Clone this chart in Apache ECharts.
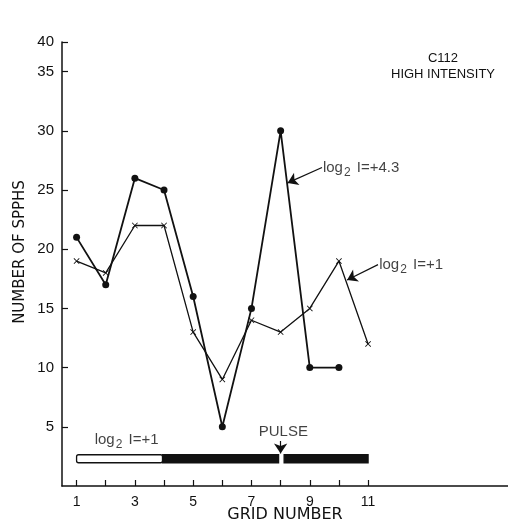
<!DOCTYPE html>
<html>
<head>
<meta charset="utf-8">
<script src="https://cdn.jsdelivr.net/npm/echarts@6/dist/echarts.min.js"></script>
<style>
  html, body { margin: 0; padding: 0; background: #fff; }
  #main { width: 508px; height: 526px; }
</style>
</head>
<body>
<div id="main"></div>
<script>
// grid numbers and spike counts
var gridNumbers = [1, 2, 3, 4, 5, 6, 7, 8, 9, 10, 11];
var highIntensity = [21, 17, 26, 25, 16, 5, 15, 30, 10, 10, null]; // log2 I=+4.3
var lowIntensity = [19, 18, 22, 22, 13, 9, 14, 13, 15, 19, 12];    // log2 I=+1

var xTickValues = [1, 2, 3, 4, 5, 6, 7, 8, 9, 10, 11];
var xLabelValues = [1, 3, 5, 7, 9, 11];
// the printed axis tops out just above 35, with "40" written at its end
var yTickValues = [5, 10, 15, 20, 25, 30, 35, 37.5];
var yTopLabel = '40';

// stimulus bar along the bottom
var stimStart = [1, 3.95, 8.12];
var stimEnd = [3.95, 7.93, 11];
var stimKind = ['low', 'high', 'high'];
var stimLevel = 2.3;
var pulseAt = 8;

var FONT = 'Liberation Sans';

var chart = echarts.init(document.getElementById('main'));

function toPairs(ys) {
  var out = [];
  ys.forEach(function (y, i) {
    if (y != null) out.push([gridNumbers[i], y]);
  });
  return out;
}

var xMark = 'path://M0,1L1,0L5,4L9,0L10,1L6,5L10,9L9,10L5,6L1,10L0,9L4,5Z';

var rich = {
  a: { fontFamily: FONT, fontSize: 15, color: '#111' },
  s: { fontFamily: FONT, fontSize: 12, color: '#111', padding: [10, 2, 0, 1] }
};

var option = {
  animation: false,
  backgroundColor: '#fff',
  grid: { left: 62, right: 0, top: 42, bottom: 40, outerBoundsMode: 'none', containLabel: false },
  xAxis: {
    type: 'value',
    min: 0.5,
    max: 15.8,
    axisLine: { lineStyle: { color: '#111', width: 1.5 } },
    axisTick: { inside: true, length: 6, customValues: xTickValues, lineStyle: { color: '#111', width: 1.2 } },
    axisLabel: { customValues: xLabelValues, fontFamily: FONT, fontSize: 14, color: '#111', margin: 9 },
    splitLine: { show: false }
  },
  yAxis: {
    type: 'value',
    min: 0,
    max: 37.5,
    axisLine: { show: true, lineStyle: { color: '#111', width: 1.5 } },
    axisTick: { show: true, inside: true, length: 6, customValues: yTickValues, lineStyle: { color: '#111', width: 1.2 } },
    axisLabel: {
      customValues: yTickValues,
      fontFamily: FONT, fontSize: 15, color: '#111', margin: 8,
      formatter: function (v) { return v === 37.5 ? yTopLabel : String(v); }
    },
    splitLine: { show: false }
  },
  graphic: [
    {
      type: 'text', x: 285, y: 515,
      style: { text: 'GRID NUMBER', font: '16px "DejaVu Sans"', fill: '#111', align: 'center', verticalAlign: 'middle' }
    },
    {
      type: 'text', x: 20, y: 252, rotation: Math.PI / 2,
      style: { text: 'NUMBER OF SPPHS', font: '15px "DejaVu Sans"', fill: '#111', align: 'center', verticalAlign: 'middle' }
    },
    {
      type: 'text', x: 443, y: 58,
      style: { text: 'C112', font: '13px "' + FONT + '"', fill: '#111', align: 'center', verticalAlign: 'middle' }
    },
    {
      type: 'text', x: 443, y: 74,
      style: { text: 'HIGH INTENSITY', font: '13px "' + FONT + '"', fill: '#111', align: 'center', verticalAlign: 'middle' }
    }
  ],
  series: [
    {
      name: 'log2 I=+4.3',
      type: 'line',
      data: toPairs(highIntensity),
      symbol: 'circle',
      symbolSize: 7,
      lineStyle: { color: '#111', width: 1.8 },
      itemStyle: { color: '#111' },
      markLine: {
        silent: true,
        symbol: ['none', 'arrow'],
        symbolSize: 10,
        label: { show: false },
        itemStyle: { color: '#111' },
        lineStyle: { color: '#111', type: 'solid', width: 1.2 },
        data: [
          [{ coord: [9.42, 26.9] }, { coord: [8.24, 25.6] }],
          [{ coord: [11.34, 18.7] }, { coord: [10.28, 17.4] }],
          [{ coord: [pulseAt, 3.8] }, { coord: [pulseAt, 2.75] }]
        ]
      }
    },
    {
      name: 'log2 I=+1',
      type: 'line',
      data: toPairs(lowIntensity),
      symbol: xMark,
      symbolSize: 6,
      lineStyle: { color: '#111', width: 1.3 },
      itemStyle: { color: '#111' }
    },
    {
      name: 'stimulus',
      type: 'custom',
      data: stimStart.map(function (s, i) { return [s, stimEnd[i], stimLevel, stimKind[i] === 'high' ? 1 : 0]; }),
      renderItem: function (params, api) {
        var p0 = api.coord([api.value(0), api.value(2)]);
        var p1 = api.coord([api.value(1), api.value(2)]);
        var h = 8;
        var filled = api.value(3) === 1;
        return {
          type: 'rect',
          shape: { x: p0[0], y: p0[1] - h / 2, width: p1[0] - p0[0], height: h, r: filled ? 0 : 2 },
          style: { fill: filled ? '#111' : '#fff', stroke: '#111', lineWidth: 1.3 }
        };
      },
      silent: true,
      z: 3
    },
    {
      name: 'notes',
      type: 'scatter',
      symbolSize: 0,
      silent: true,
      data: [
        { value: [9.45, 26.9], label: { formatter: '{a|log}{s|2}{a| I=+4.3}' } },
        { value: [11.38, 18.7], label: { formatter: '{a|log}{s|2}{a| I=+1}' } },
        { value: [1.62, 3.9], label: { formatter: '{a|log}{s|2}{a| I=+1}' } },
        { value: [pulseAt - 0.75, 4.55], label: { formatter: '{a|PULSE}' } }
      ],
      label: {
        show: true,
        position: 'right',
        distance: 0,
        rich: rich
      }
    }
  ]
};

chart.setOption(option);
</script>
</body>
</html>
